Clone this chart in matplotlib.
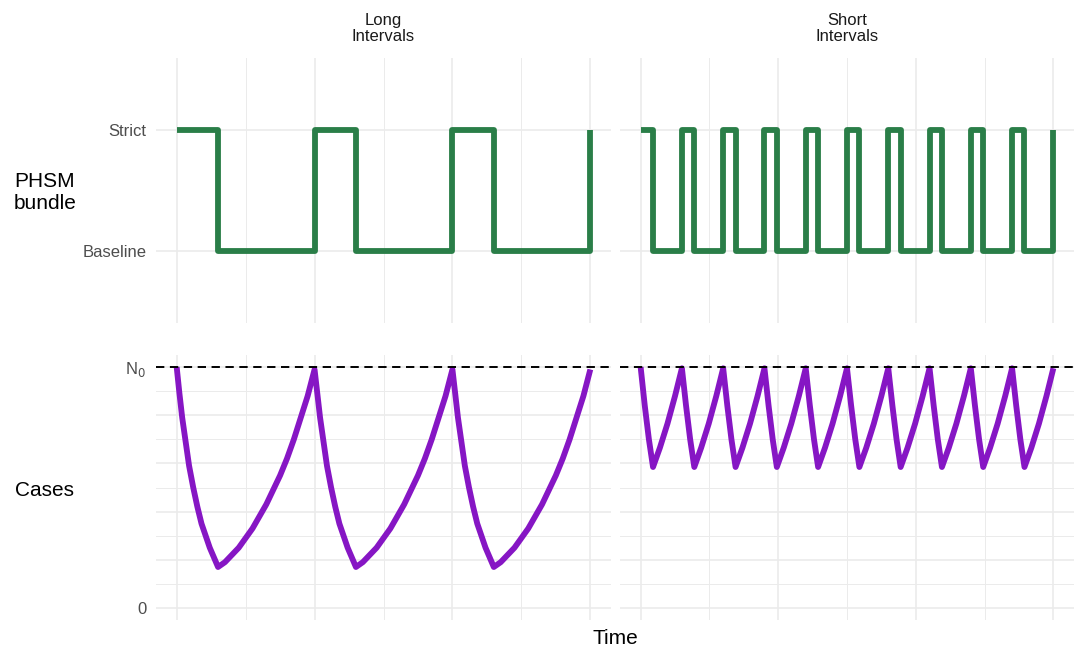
import numpy as np
import matplotlib.pyplot as plt
from matplotlib.ticker import MultipleLocator

plt.rcParams['font.family'] = ['Liberation Sans', 'DejaVu Sans']
plt.rcParams['lines.scale_dashes'] = False

# PHSM switching times (start of each level) and the level held from there
long_t = [0, 30, 100, 130, 200, 230, 300]
long_level = ['Strict', 'Baseline', 'Strict', 'Baseline', 'Strict', 'Baseline', 'Strict']
short_t = [0, 9, 30, 39, 60, 69, 90, 99, 120, 129, 150, 159, 180, 189,
           210, 219, 240, 249, 270, 279, 300]
short_level = ['Strict', 'Baseline'] * 10 + ['Strict']
level_names = ['Baseline', 'Strict']

# cases over one cycle (fraction of N0)
long_cycle_t = [0, 2, 4, 6, 9, 12, 15, 18, 21, 24, 27, 30,
                35, 40, 45, 50, 55, 60, 65, 70, 75, 80, 85, 90, 95, 100]
long_cycle_v = [1.0, 0.89, 0.79, 0.71, 0.59, 0.50, 0.42, 0.35, 0.30, 0.25, 0.21, 0.17,
                0.19, 0.22, 0.25, 0.29, 0.33, 0.38, 0.43, 0.49, 0.55, 0.62, 0.70,
                0.79, 0.88, 0.99]
long_cycles = 3
short_cycle_t = [0, 3, 6, 9, 14, 19.5, 25, 30]
short_cycle_v = [1.0, 0.84, 0.70, 0.585, 0.665, 0.765, 0.88, 0.995]
short_cycles = 10

green = '#2a7e48'
purple = '#8616c4'
grid_col = '#ebebeb'


def repeat_cycle(ct, cv, n):
    period = ct[-1]
    ts, vs = list(ct), list(cv)
    for k in range(1, n):
        ts += [k * period + t for t in ct[1:]]
        vs += list(cv[1:])
    return ts, vs


fig = plt.figure(figsize=(10.74, 6.5), dpi=100)
W, H = 1074, 650
def add_ax(x0, y0, x1, y1):
    return fig.add_axes([x0 / W, 1 - y1 / H, (x1 - x0) / W, (y1 - y0) / H])

ax_tl = add_ax(156, 58, 611, 323)
ax_tr = add_ax(620, 58, 1074, 323)
ax_bl = add_ax(156, 355, 611, 620)
ax_br = add_ax(620, 355, 1074, 620)

for ax in [ax_tl, ax_tr, ax_bl, ax_br]:
    for s in ax.spines.values():
        s.set_visible(False)
    ax.set_xlim(-15, 315)
    ax.xaxis.set_major_locator(MultipleLocator(100))
    ax.xaxis.set_minor_locator(MultipleLocator(50))
    ax.grid(True, which='major', axis='x', color=grid_col, lw=1.2)
    ax.grid(True, which='minor', axis='x', color=grid_col, lw=0.7)
    ax.tick_params(which='both', length=0, labelbottom=False, labelleft=False,
                   labelsize=12, labelcolor='#4d4d4d', pad=7)
    ax.set_axisbelow(True)

# top row: PHSM bundle
for ax, ts, lv in [(ax_tl, long_t, long_level), (ax_tr, short_t, short_level)]:
    y = [level_names.index(l) + 1 for l in lv]
    ax.plot(ts, y, drawstyle='steps-post', color=green, lw=4.2,
            solid_joinstyle='round', solid_capstyle='butt')
    ax.set_ylim(0.4, 2.6)
    ax.set_yticks([1, 2])
    ax.set_yticklabels(level_names)
    ax.grid(True, which='major', axis='y', color=grid_col, lw=1.2)
ax_tl.tick_params(labelleft=True)

# bottom row: cases
for ax, ct, cv, n in [(ax_bl, long_cycle_t, long_cycle_v, long_cycles),
                      (ax_br, short_cycle_t, short_cycle_v, short_cycles)]:
    ts, vs = repeat_cycle(ct, cv, n)
    ax.plot(ts, vs, color=purple, lw=4.2, solid_joinstyle='round',
            solid_capstyle='butt')
    ax.axhline(1.0, color='black', lw=1.4, dashes=(6.0, 4.0))
    ax.set_ylim(-0.05, 1.05)
    ax.yaxis.set_major_locator(MultipleLocator(0.2))
    ax.yaxis.set_minor_locator(MultipleLocator(0.1))
    ax.grid(True, which='major', axis='y', color=grid_col, lw=1.2)
    ax.grid(True, which='minor', axis='y', color=grid_col, lw=0.7)
ax_bl.set_yticks([0, 0.2, 0.4, 0.6, 0.8, 1.0])
ax_bl.set_yticklabels(['0', '', '', '', '', 'N$_0$'])
ax_bl.tick_params(labelleft=True)

# facet strips
ax_tl.text(0.5, 1.111, 'Long\nIntervals', transform=ax_tl.transAxes,
           ha='center', va='center', fontsize=12, color='#1a1a1a', linespacing=1.15)
ax_tr.text(0.5, 1.111, 'Short\nIntervals', transform=ax_tr.transAxes,
           ha='center', va='center', fontsize=12, color='#1a1a1a', linespacing=1.15)

fig.text(45 / W, 1 - 193 / H, 'PHSM\nbundle', ha='center', va='center',
         fontsize=15, linespacing=1.2)
fig.text(45 / W, 1 - 490 / H, 'Cases', ha='center', va='center', fontsize=15)
fig.text(615 / W, 1 - 638 / H, 'Time', ha='center', va='center', fontsize=15)

fig.savefig('out.png', dpi=100, facecolor='white')
